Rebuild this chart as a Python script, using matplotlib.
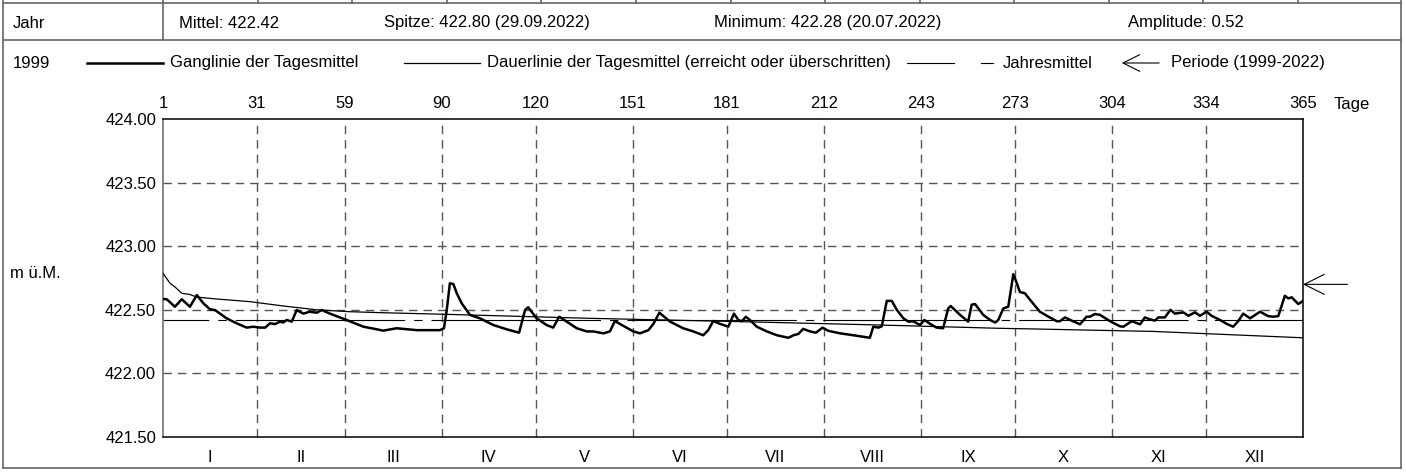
import matplotlib
matplotlib.use('Agg')
import matplotlib.pyplot as plt
from matplotlib.lines import Line2D
from matplotlib.transforms import blended_transform_factory

plt.rcParams['font.family'] = ['Liberation Sans', 'DejaVu Sans']
plt.rcParams['font.size'] = 12
plt.rcParams['lines.scale_dashes'] = False

W, H = 1406, 472

# Achsen
tage_ticks = [1, 31, 59, 90, 120, 151, 181, 212, 243, 273, 304, 334, 365]
monate = ['I', 'II', 'III', 'IV', 'V', 'VI', 'VII', 'VIII', 'IX', 'X', 'XI', 'XII']
hoehen_ticks = [421.5, 422.0, 422.5, 423.0, 423.5, 424.0]

# Ganglinie der Tagesmittel 1999 (Tag, m ü.M.)
gang_tag = [1, 2.2, 4.8, 7.0, 9.6, 11.8, 13.9, 16.0, 17.6, 21.3, 24.5, 27.7, 29.8, 32.0,
            33.6, 35.2, 36.8, 38.4, 39.4, 40.5, 42.1, 43.7, 45.8, 47.9, 50.1, 51.7, 54.3,
            59.6, 65.0, 69.2, 71.3, 75.6, 82.0, 89.4,
            90.7, 91.6, 92.6, 93.7, 94.8, 96.4, 99.0, 102.2, 106.5, 110.7, 114.7, 116.6,
            117.6, 120.3, 123.5, 125.6, 127.5, 129.9, 133.1, 136.3, 138.4, 141.6, 143.7,
            145.3, 147.5, 151.2, 153.3, 156.0, 157.6, 159.5, 162.9, 167.1, 170.3, 173.5,
            175.1, 176.7, 178.8, 181.5,
            183.3, 184.7, 185.8, 187.1, 188.4, 190.6, 193.8, 197.0, 200.7, 202.3, 203.9,
            205.4, 207.6, 209.5, 211.6, 213.4, 217.2, 221.4, 226.7, 227.8, 229.4, 230.5,
            232.1, 233.7, 235.3, 237.4, 239.0, 240.6, 242.7, 244.1, 245.9, 248.0, 250.1,
            251.7, 252.5, 255.5, 258.1, 259.2, 260.3, 262.9, 265.1, 266.7, 267.7, 269.3,
            270.9, 272.5, 273.6, 274.6,
            276.2, 277.8, 281.0, 283.7, 286.4, 287.4, 289.0, 291.1, 293.8, 295.9, 297.0,
            298.6, 300.2, 303.4, 306.6, 307.6, 310.3, 313.0, 314.5, 316.1, 317.7, 318.8,
            320.9, 322.7, 324.1, 326.8, 328.4, 330.5, 332.1, 334.2, 335.8, 338.5, 340.6,
            342.7, 344.3, 345.9, 348.1, 351.3, 353.9, 355.5, 357.1, 359.2, 360.3, 361.4,
            363.5, 365]
gang_wert = [422.585, 422.583, 422.524, 422.583, 422.524, 422.616, 422.551, 422.504, 422.498,
             422.433, 422.394, 422.36, 422.367, 422.36, 422.36, 422.394, 422.388, 422.407,
             422.40, 422.42, 422.407, 422.498, 422.47, 422.485, 422.477, 422.498, 422.47,
             422.42, 422.367, 422.347, 422.336, 422.355, 422.34, 422.34,
             422.355, 422.498, 422.708, 422.703, 422.63, 422.55, 422.46, 422.433, 422.38,
             422.347, 422.32, 422.498, 422.52, 422.433, 422.38, 422.36, 422.446, 422.407,
             422.355, 422.33, 422.33, 422.315, 422.33, 422.412, 422.38, 422.33, 422.315,
             422.34, 422.39, 422.477, 422.407, 422.355, 422.33, 422.30, 422.34, 422.412,
             422.39, 422.367,
             422.47, 422.42, 422.41, 422.445, 422.42, 422.367, 422.33, 422.30, 422.28,
             422.30, 422.31, 422.35, 422.33, 422.32, 422.36, 422.335, 422.315, 422.30,
             422.28, 422.367, 422.36, 422.37, 422.57, 422.57, 422.50, 422.433, 422.407,
             422.41, 422.38, 422.42, 422.39, 422.36, 422.355, 422.51, 422.53, 422.46,
             422.407, 422.54, 422.545, 422.46, 422.42, 422.40, 422.42, 422.51, 422.525,
             422.78, 422.71, 422.64,
             422.63, 422.58, 422.485, 422.446, 422.41, 422.41, 422.44, 422.415, 422.386,
             422.446, 422.446, 422.467, 422.46, 422.41, 422.37, 422.367, 422.41, 422.386,
             422.44, 422.425, 422.415, 422.44, 422.44, 422.50, 422.47, 422.48, 422.453,
             422.48, 422.453, 422.485, 422.453, 422.42, 422.39, 422.367, 422.41, 422.47,
             422.433, 422.485, 422.45, 422.446, 422.45, 422.61, 422.59, 422.598, 422.545,
             422.57]

# Dauerlinie der Tagesmittel
dauer_tag = [1, 3.2, 4.8, 7.0, 9.6, 11.8, 18.1, 28.8, 39.4, 50.1, 60.7, 71.3, 90.5,
             137.3, 185.2, 230.5, 267.2, 277.8, 317.2, 365]
dauer_wert = [422.787, 422.71, 422.68, 422.63, 422.62, 422.60, 422.585, 422.564, 422.53,
              422.50, 422.485, 422.477, 422.465, 422.433, 422.407, 422.38, 422.355,
              422.35, 422.33, 422.28]

jahresmittel = 422.42
periode_pfeil = 422.70

kopf_texte = ['Mittel: 422.42', 'Spitze: 422.80 (29.09.2022)',
              'Minimum: 422.28 (20.07.2022)', 'Amplitude: 0.52']

GRAU = '#666666'


def fx(x):
    return x / W


def fy(y):
    return 1 - y / H


def linie(fig, x0, y0, x1, y1, **kw):
    fig.add_artist(Line2D([fx(x0), fx(x1)], [fy(y0), fy(y1)],
                          transform=fig.transFigure, **kw))


fig = plt.figure(figsize=(W / 100, H / 100), dpi=100)

# Rahmen und Kopfzeile
rahmen = dict(color=GRAU, lw=1.2)
linie(fig, 3, 3, 1401, 3, **rahmen)
linie(fig, 3, 40, 1401, 40, **rahmen)
linie(fig, 3, 468, 1401, 468, **rahmen)
linie(fig, 3, 0, 3, 468, **rahmen)
linie(fig, 1401, 0, 1401, 468, **rahmen)
linie(fig, 163, 0, 163, 40, **rahmen)
for k in range(1, 13):
    xs = 163 + k * 1135 / 12
    linie(fig, xs, 0, xs, 3, **rahmen)

fig.text(fx(13), fy(23), 'Jahr', va='center', ha='left')
for txt, xpos in zip(kopf_texte, [179, 384, 714, 1128]):
    fig.text(fx(xpos), fy(23), txt, va='center', ha='left')

# Legende
fig.text(fx(13), fy(63), '1999', va='center', ha='left')
linie(fig, 87, 63, 163, 63, color='black', lw=1.8)
fig.text(fx(170), fy(63), 'Ganglinie der Tagesmittel', va='center', ha='left')
linie(fig, 404, 63, 480, 63, color='black', lw=0.9)
fig.text(fx(487), fy(63), 'Dauerlinie der Tagesmittel (erreicht oder überschritten)',
         va='center', ha='left')
linie(fig, 907, 63, 954, 63, color='black', lw=0.8)
linie(fig, 981, 63, 993, 63, color='black', lw=0.8)
fig.text(fx(1003), fy(63), 'Jahresmittel', va='center', ha='left')
fig.add_artist(matplotlib.patches.FancyArrowPatch(
    (fx(1162), fy(63)), (fx(1119), fy(63)), transform=fig.transFigure,
    arrowstyle='->,head_length=1.2,head_width=0.6', mutation_scale=10,
    color='black', lw=0.8))
fig.text(fx(1171), fy(63), 'Periode (1999-2022)', va='center', ha='left')

fig.text(fx(10), fy(274), 'm ü.M.', va='center', ha='left')
fig.text(fx(1334), fy(104), 'Tage', va='center', ha='left')

# Diagramm
ax = fig.add_axes([fx(163), fy(437), (1303 - 163) / W, (437 - 119) / H])
ax.set_xlim(1, 365)
ax.set_ylim(421.5, 424.0)

ax.set_xticks(tage_ticks)
ax.set_xticklabels([str(t) for t in tage_ticks])
mitten = [(a + b) / 2 for a, b in zip(tage_ticks[:-1], tage_ticks[1:])]
ax.set_xticks(mitten, minor=True)
ax.set_xticklabels(monate, minor=True)
ax.tick_params(axis='x', which='major', length=0, top=False, bottom=False,
               labeltop=True, labelbottom=False, pad=6, labelsize=12)
ax.tick_params(axis='x', which='minor', length=0, top=False, bottom=False,
               labeltop=False, labelbottom=True, pad=9, labelsize=12)
ax.set_yticks(hoehen_ticks)
ax.set_yticklabels(['%.2f' % v for v in hoehen_ticks])
ax.tick_params(axis='y', length=0, pad=5, labelsize=12)

for s in ['top', 'bottom', 'right']:
    ax.spines[s].set_color('black')
    ax.spines[s].set_linewidth(1.1)
ax.spines['left'].set_color(GRAU)
ax.spines['left'].set_linewidth(1.1)

gitter = dict(color='#555555', lw=1.0, ls=(0, (6.1, 4.3)), zorder=1)
for t in tage_ticks[1:-1]:
    ax.axvline(t, **gitter)
for h in hoehen_ticks[1:-1]:
    ax.axhline(h, **gitter)

ax.axhline(jahresmittel, color='black', lw=0.8, ls=(89, (122, 6.5, 6, 6.5)), zorder=2)
ax.plot(dauer_tag, dauer_wert, color='black', lw=0.9, zorder=3)
ax.plot(gang_tag, gang_wert, color='black', lw=1.8, zorder=4)

ax.annotate('', xy=(365, periode_pfeil), xytext=(32, 0), textcoords='offset points',
            arrowprops=dict(arrowstyle='->,head_length=1.2,head_width=0.6',
                            lw=0.8, color='black', shrinkA=0, shrinkB=0),
            annotation_clip=False)

fig.savefig('out.png', dpi=100)
